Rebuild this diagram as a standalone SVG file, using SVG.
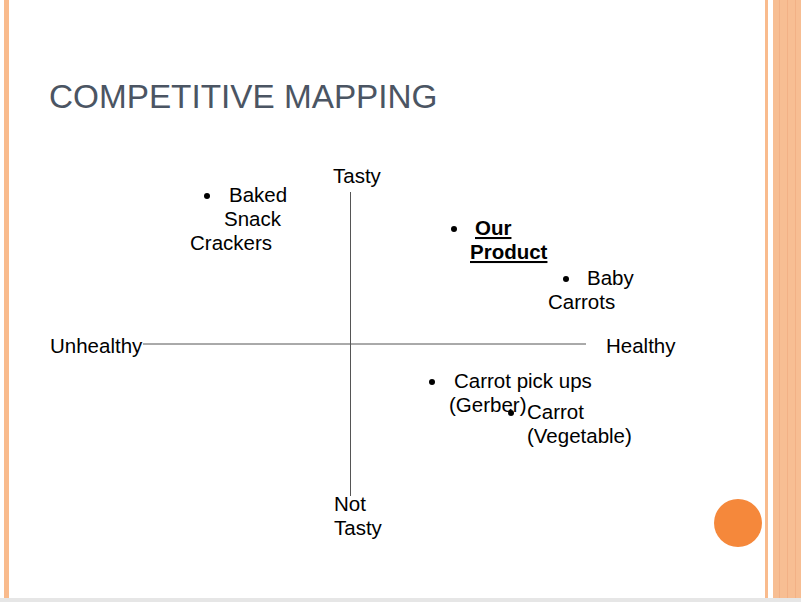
<svg xmlns="http://www.w3.org/2000/svg" width="801" height="602" viewBox="0 0 801 602">
<style>
.t{font-family:"Liberation Sans",Arial,sans-serif;font-size:20.5px;fill:#000}
.b{font-weight:bold;text-decoration:underline}
.ax{stroke:#555;stroke-width:1}
.dot{fill:#000}
</style>
<rect width="801" height="602" fill="#fff"/>
<g id="frame">
<rect x="4" y="0" width="5" height="598" fill="#F9BB8D"/>
<rect x="765" y="0" width="3" height="598" fill="#F9BB8D"/>
<rect x="773" y="0" width="28" height="598" fill="#F7BE93"/>
<rect x="779" y="0" width="1" height="598" fill="#F2B186"/>
<rect x="787" y="0" width="1" height="598" fill="#F2B186"/>
<rect x="795" y="0" width="1" height="598" fill="#F2B186"/>
<rect x="0" y="598" width="801" height="4" fill="#E6E6E6"/>
<circle cx="738" cy="523" r="24" fill="#F5883B"/>
</g>
<text x="49" y="108" font-family="'Liberation Sans',Arial,sans-serif" font-size="33.3" fill="#4B5563">COMPETITIVE MAPPING</text>
<g id="connectors">
<line class="ax" x1="143" y1="344" x2="586" y2="344"/>
<line class="ax" x1="350.5" y1="192" x2="350.5" y2="496"/>
</g>
<g id="axis-labels">
<text class="t" x="333" y="183">Tasty</text>
<text class="t" x="334" y="511">Not</text>
<text class="t" x="334" y="535">Tasty</text>
<text class="t" x="50" y="353">Unhealthy</text>
<text class="t" x="606" y="353">Healthy</text>
</g>
<g id="baked-snack-crackers">
<circle class="dot" cx="207" cy="196" r="3"/>
<text class="t" x="229" y="202">Baked</text>
<text class="t" x="224" y="226">Snack</text>
<text class="t" x="190" y="250">Crackers</text>
</g>
<g id="our-product">
<circle class="dot" cx="454" cy="229" r="3"/>
<text class="t b" x="475" y="235">Our</text>
<text class="t b" x="470" y="259">Product</text>
</g>
<g id="baby-carrots">
<circle class="dot" cx="566" cy="279" r="3"/>
<text class="t" x="587" y="285">Baby</text>
<text class="t" x="548" y="309">Carrots</text>
</g>
<g id="carrot-pick-ups">
<circle class="dot" cx="432" cy="382" r="3"/>
<text class="t" x="454" y="388">Carrot pick ups</text>
<text class="t" x="449" y="412">(Gerber)</text>
</g>
<g id="carrot-vegetable">
<circle class="dot" cx="511" cy="413" r="3"/>
<text class="t" x="527" y="419">Carrot</text>
<text class="t" x="527" y="443">(Vegetable)</text>
</g>
</svg>
